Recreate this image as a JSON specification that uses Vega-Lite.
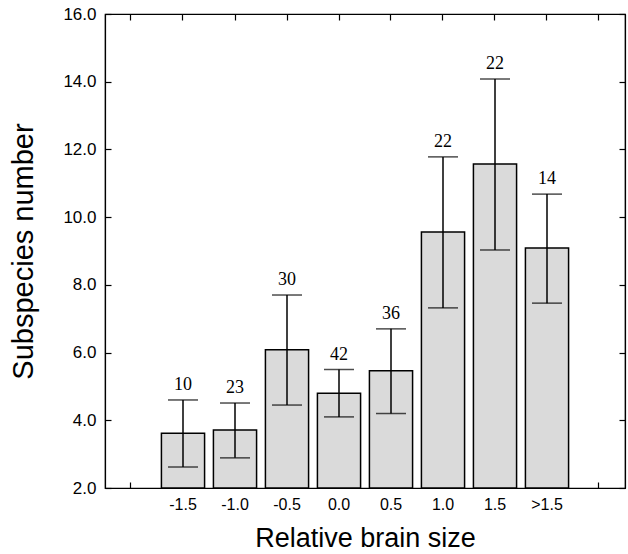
{
  "$schema": "https://vega.github.io/schema/vega-lite/v6.json",
  "autosize": {"type": "none"},
  "width": 520,
  "height": 474,
  "padding": {"left": 105, "top": 14, "right": 3, "bottom": 66},
  "background": "white",
  "config": {
    "view": {"stroke": "black", "strokeWidth": 1.2},
    "axis": {"domainColor": "black", "tickColor": "black", "labelColor": "black", "titleColor": "black", "grid": false, "labelFont": "Liberation Sans", "titleFont": "Liberation Sans", "titleFontWeight": "normal"}
  },
  "data": {
    "values": [
      {"cat": "-1.5", "mean": 3.62, "lower": 2.62, "upper": 4.6, "n": 10},
      {"cat": "-1.0", "mean": 3.71, "lower": 2.89, "upper": 4.51, "n": 23},
      {"cat": "-0.5", "mean": 6.08, "lower": 4.45, "upper": 7.7, "n": 30},
      {"cat": "0.0", "mean": 4.8, "lower": 4.1, "upper": 5.5, "n": 42},
      {"cat": "0.5", "mean": 5.46, "lower": 4.2, "upper": 6.7, "n": 36},
      {"cat": "1.0", "mean": 9.56, "lower": 7.32, "upper": 11.78, "n": 22},
      {"cat": "1.5", "mean": 11.57, "lower": 9.03, "upper": 14.08, "n": 22},
      {"cat": ">1.5", "mean": 9.09, "lower": 7.46, "upper": 10.68, "n": 14}
    ]
  },
  "layer": [
    {
      "encoding": {
        "x": {
          "field": "cat", "type": "ordinal", "sort": null,
          "scale": {"domain": ["L", "-1.5", "-1.0", "-0.5", "0.0", "0.5", "1.0", "1.5", ">1.5", "R"], "paddingInner": 0.17, "paddingOuter": 0.085},
          "axis": {"title": "Relative brain size", "titleFontSize": 27, "titlePadding": 13, "labelAngle": 0, "labelFontSize": 16, "labelPadding": 14, "tickSize": -6, "tickWidth": 1.2, "domainWidth": 1.2, "labelExpr": "datum.label == 'L' || datum.label == 'R' ? '' : datum.label"}
        }
      },
      "layer": [
        {
          "mark": {"type": "bar", "fill": "#dadada", "stroke": "black", "strokeWidth": 1.5},
          "encoding": {
            "y": {
              "field": "mean", "type": "quantitative",
              "scale": {"domain": [2, 16], "zero": false, "nice": false},
              "axis": {"title": "Subspecies number", "titleFontSize": 29, "titlePadding": 24, "values": [2, 4, 6, 8, 10, 12, 14, 16], "format": ".1f", "labelFontSize": 17, "labelPadding": 15, "tickSize": -6, "tickWidth": 1.2, "domainWidth": 1.2}
            },
            "y2": {"datum": 2}
          }
        },
        {
          "mark": {"type": "rule", "stroke": "black", "strokeWidth": 1.5},
          "encoding": {
            "y": {"field": "lower", "type": "quantitative"},
            "y2": {"field": "upper"}
          }
        },
        {
          "mark": {"type": "tick", "color": "black", "size": 30, "thickness": 1.5, "orient": "horizontal"},
          "encoding": {"y": {"field": "upper", "type": "quantitative"}}
        },
        {
          "mark": {"type": "tick", "color": "black", "size": 30, "thickness": 1.5, "orient": "horizontal"},
          "encoding": {"y": {"field": "lower", "type": "quantitative"}}
        },
        {
          "mark": {"type": "text", "font": "Liberation Serif", "fontSize": 18, "baseline": "alphabetic", "dy": -10, "color": "black"},
          "encoding": {
            "y": {"field": "upper", "type": "quantitative"},
            "text": {"field": "n", "type": "quantitative"}
          }
        }
      ]
    },
    {
      "mark": {"type": "rule", "opacity": 0},
      "encoding": {
        "x": {
          "field": "cat", "type": "ordinal", "sort": null,
          "scale": {"domain": ["L", "-1.5", "-1.0", "-0.5", "0.0", "0.5", "1.0", "1.5", ">1.5", "R"], "paddingInner": 0.17, "paddingOuter": 0.085},
          "axis": {"orient": "top", "title": null, "labels": false, "tickSize": -6, "tickWidth": 1.2, "domainWidth": 1.2}
        },
        "y": {
          "field": "mean", "type": "quantitative",
          "scale": {"domain": [2, 16], "zero": false, "nice": false},
          "axis": {"orient": "right", "title": null, "labels": false, "values": [2, 4, 6, 8, 10, 12, 14, 16], "tickSize": -6, "tickWidth": 1.2, "domainWidth": 1.2}
        }
      }
    }
  ],
  "resolve": {"axis": {"x": "independent", "y": "independent"}}
}
